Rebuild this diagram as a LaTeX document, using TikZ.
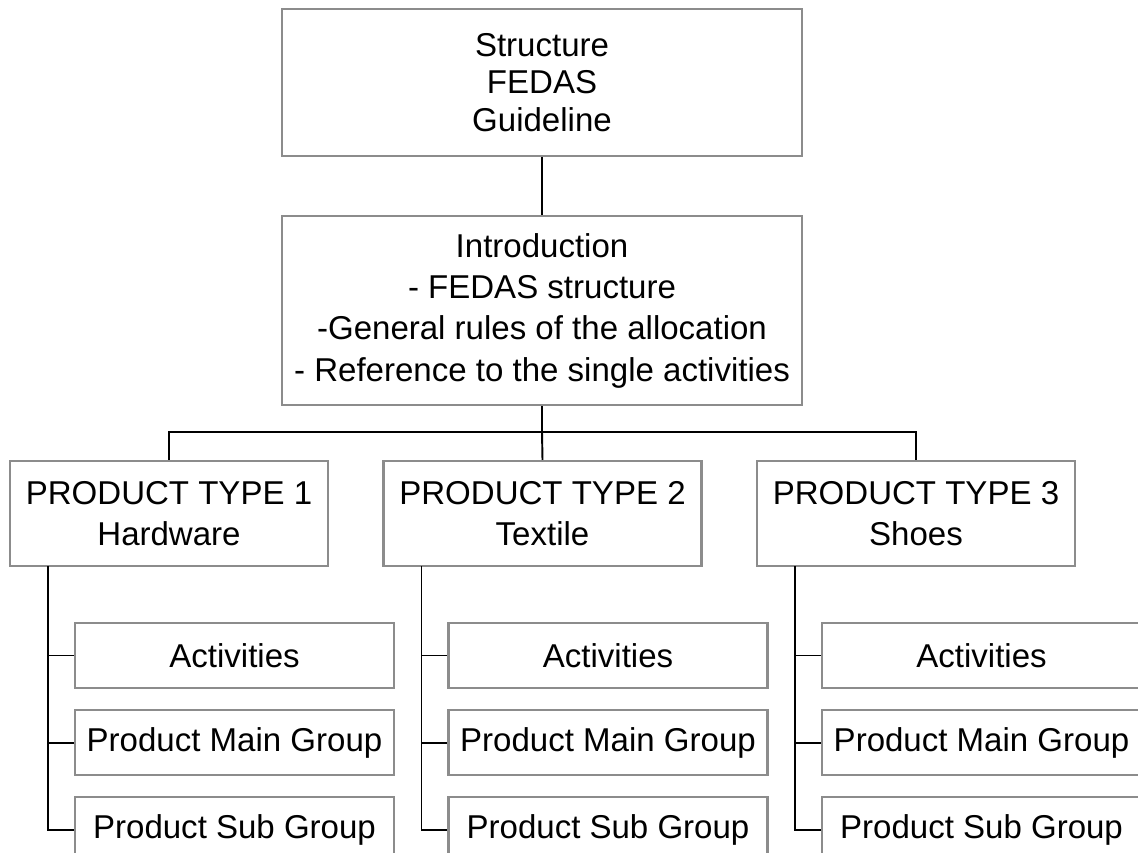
\documentclass[tikz,border=0pt]{standalone}
\usepackage{fontspec}
\setmainfont{Liberation Sans}
\usepackage{tikz}
\usetikzlibrary{positioning}
\definecolor{BoxGray}{HTML}{8C8C8C}

\begin{document}
\begin{tikzpicture}[x=0.02cm, y=-0.02cm, font=\fontsize{18.8}{23.5}\selectfont,
  box/.style={draw=BoxGray, line width=1.2pt, fill=white, align=center, inner sep=0pt},
  ptbox/.style={box, minimum width=6.36cm, minimum height=2.1cm},
  subbox/.style={box, minimum width=6.38cm, minimum height=1.3cm},
  link/.style={line width=1.1pt, black}]
  \clip (0,0) rectangle (1138,852);
  % top of the tree
  \node[box, minimum width=10.4cm, minimum height=2.94cm,
    font=\fontsize{18.8}{21.5}\selectfont] (guide) at (542,82.5)
    {Structure\\FEDAS\\Guideline};
  \node[box, minimum width=10.4cm, minimum height=3.78cm, below=1.16cm of guide] (intro)
    {Introduction\\- FEDAS structure\\-General rules of the allocation\\- Reference to the single activities};
  \coordinate (split) at (542,432);
  \draw[link] (guide) -- (intro);
  % product types with their levels
  \foreach \i/\cx/\kind in {1/169/Hardware, 2/542.5/Textile, 3/916/Shoes} {
    \node[ptbox] (pt\i) at (\cx,513.5) {PRODUCT TYPE \i\\\kind};
    \node[subbox] (act\i) at (\cx+65.5,655.5) {Activities};
    \node[subbox, below=0.4cm of act\i] (main\i) {Product Main Group};
    \node[subbox, below=0.4cm of main\i] (subg\i) {Product Sub Group};
    \coordinate (trunk\i) at (\cx-121,566);
    \draw[link] (trunk\i) |- (subg\i.west);
    \draw[link] (trunk\i |- act\i.west) -- (act\i.west);
    \draw[link] (trunk\i |- main\i.west) -- (main\i.west);
  }
  \draw[link] (intro.south) -- (split);
  \draw[link] (pt1.north) |- (split) -| (pt3.north);
  \draw[link] (split) -- (pt2.north);
\end{tikzpicture}
\end{document}
